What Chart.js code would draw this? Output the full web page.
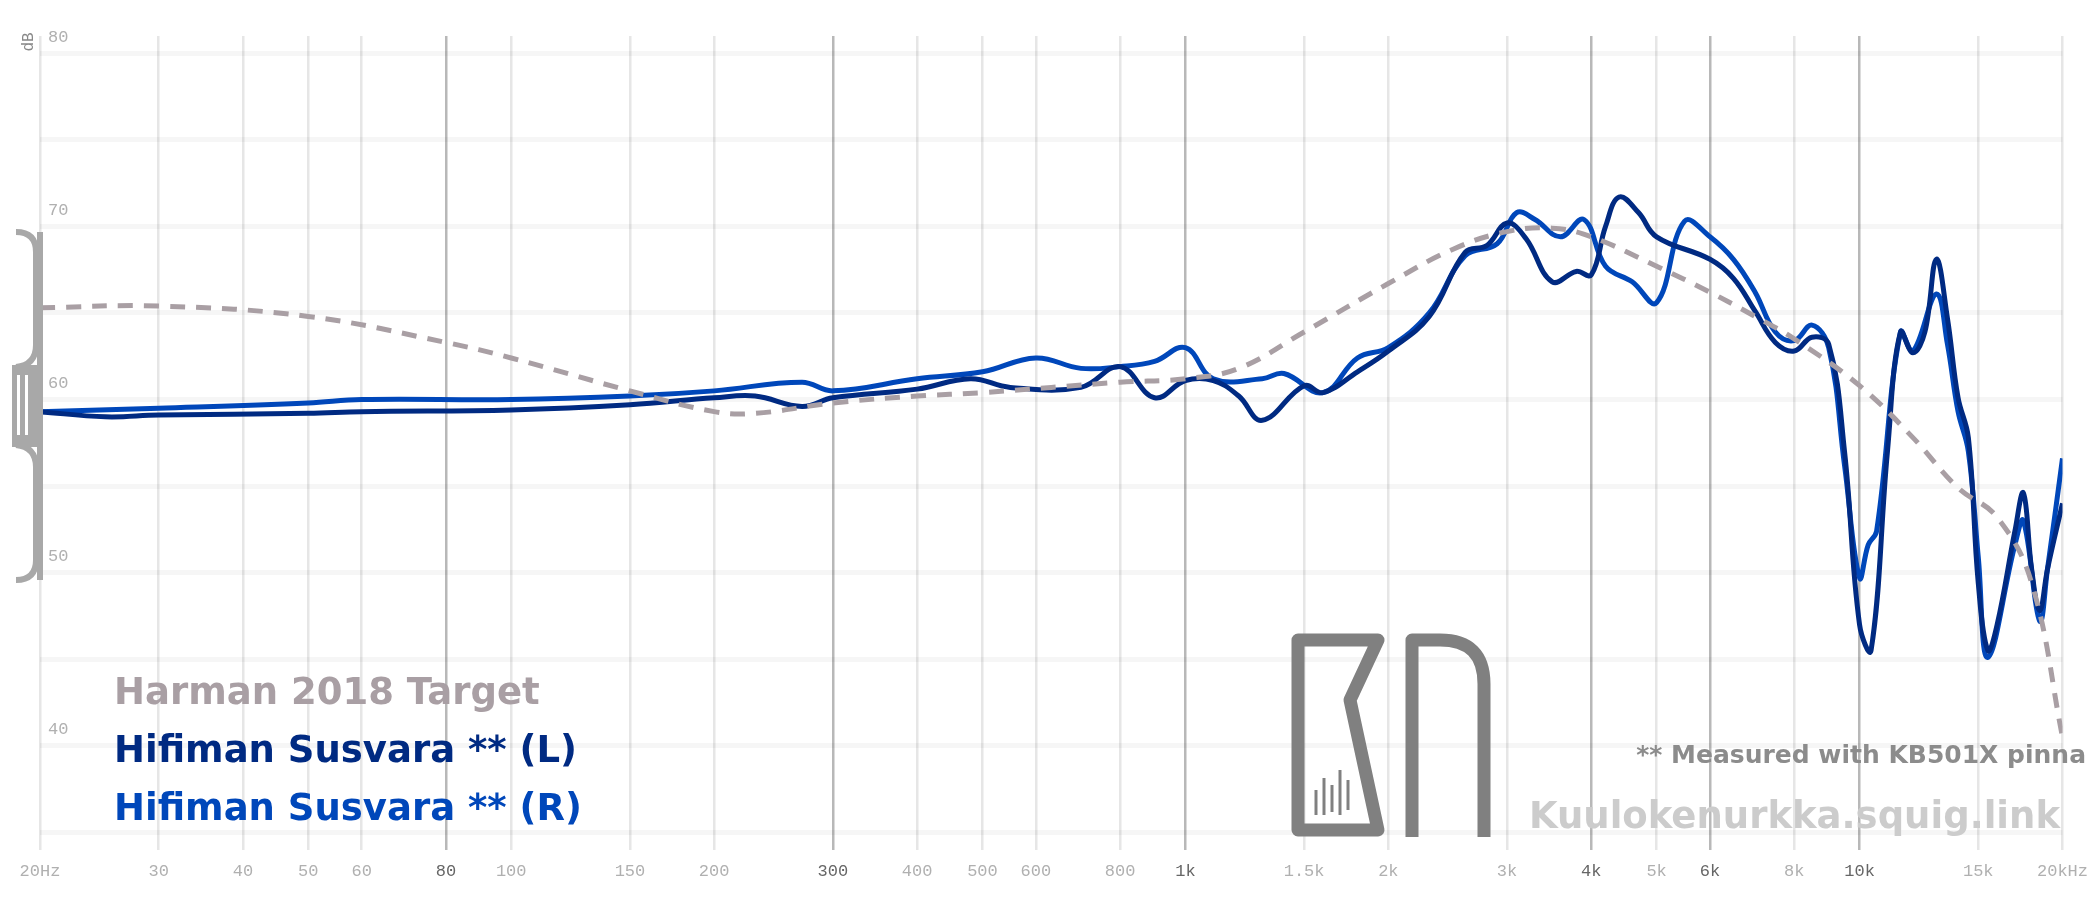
<!DOCTYPE html>
<html>
<head>
<meta charset="utf-8">
<script src="https://cdn.jsdelivr.net/npm/chart.js@4"></script>
<style>
  body { margin: 0; background: #fff; }
  #wrap { width: 2100px; height: 908px; }
</style>
</head>
<body>
<div id="wrap"><canvas id="fr"></canvas></div>
<script>
// frequency response values
const targetFreq = [20, 30, 50, 80, 100, 150, 200, 230, 300, 400, 500, 800, 1000, 1200, 1500, 2000, 2500, 3000, 3500, 4000, 5000, 6000, 7000, 8000, 10000, 12000, 14000, 16000, 18000, 20000];
const targetDb = [65.3, 65.4, 64.8, 63.3, 62.4, 60.5, 59.3, 59.2, 59.8, 60.2, 60.4, 61, 61.2, 61.8, 63.9, 66.7, 68.7, 69.7, 69.9, 69.4, 67.7, 66.2, 64.8, 63.5, 60.8, 57.8, 54.9, 53.2, 49.4, 40.5];

const leftFreq = [20, 25, 30, 50, 60, 100, 150, 200, 230, 270, 300, 400, 480, 550, 700, 800, 900, 1000, 1100, 1200, 1300, 1500, 1600, 1800, 2000, 2300, 2600, 2800, 3000, 3200, 3500, 3800, 4000, 4200, 4400, 4700, 5000, 6000, 6500, 7000, 7500, 8000, 8500, 9000, 9500, 10000, 10400, 11000, 11500, 12000, 12500, 13000, 13500, 14000, 14500, 15000, 15500, 16000, 17000, 17500, 18000, 18500, 19000, 20000];
const leftDb = [59.3, 59, 59.1, 59.2, 59.3, 59.4, 59.7, 60.1, 60.2, 59.6, 60.1, 60.6, 61.2, 60.7, 60.7, 61.9, 60.1, 61.1, 61.1, 60.2, 58.8, 60.8, 60.4, 61.6, 62.8, 64.8, 68.5, 68.9, 70.2, 69.3, 66.8, 67.4, 67.2, 70, 71.7, 70.8, 69.4, 68.1, 67, 65.1, 63.3, 62.8, 63.6, 63.2, 57, 47, 45.5, 57, 63.9, 62.7, 63.9, 68.1, 64.7, 60.1, 57.8, 49.4, 45.5, 47, 52.4, 54.6, 50.2, 47.8, 50.2, 54];

const rightFreq = [20, 30, 50, 60, 100, 150, 200, 270, 300, 400, 500, 600, 700, 800, 900, 1000, 1100, 1300, 1400, 1600, 1800, 2000, 2300, 2600, 2900, 3100, 3300, 3600, 3900, 4200, 4600, 5000, 5500, 6000, 6500, 7000, 7500, 8000, 8500, 9000, 9500, 10000, 10300, 10600, 11500, 12000, 13000, 13500, 14000, 14500, 15000, 15500, 17000, 17500, 18500, 19000, 20000];
const rightDb = [59.3, 59.5, 59.8, 60.0, 60, 60.2, 60.5, 61, 60.5, 61.2, 61.6, 62.4, 61.8, 61.9, 62.2, 63, 61.2, 61.2, 61.5, 60.4, 62.4, 63, 65, 68.3, 69, 70.8, 70.4, 69.4, 70.4, 67.7, 66.8, 65.6, 70.3, 69.4, 68.1, 66.2, 63.9, 63.4, 64.3, 63, 56.2, 49.7, 51.6, 52.4, 63.9, 62.8, 66.1, 63.2, 59.3, 57, 50.9, 45.1, 51.6, 53, 47.2, 50.2, 56.6];

const freqTicks = [20, 30, 40, 50, 60, 80, 100, 150, 200, 300, 400, 500, 600, 800, 1000, 1500, 2000, 3000, 4000, 5000, 6000, 8000, 10000, 15000, 20000];
const majorTicks = [80, 300, 1000, 4000, 6000, 10000];

const legendNames = ['Harman 2018 Target', 'Hifiman Susvara ** (L)', 'Hifiman Susvara ** (R)'];
const colors = ['#a99fa4', '#002a82', '#0047ba'];

function pts(f, d) { return f.map((v, i) => ({ x: v, y: d[i] })); }

function fmtFreq(v) {
  if (v === 20) return '20Hz';
  if (v === 20000) return '20kHz';
  if (v >= 1000) return (v / 1000) + 'k';
  return String(v);
}

const decor = {
  id: 'decor',
  afterDraw(chart) {
    const c = chart.ctx;
    c.save();
    // legend
    c.font = 'bold 37px "DejaVu Sans"';
    c.textBaseline = 'alphabetic';
    legendNames.forEach((n, i) => {
      c.fillStyle = colors[i];
      c.fillText(n, 114, 704 + i * 58);
    });
    // notes
    c.textAlign = 'right';
    c.font = 'bold 25px "DejaVu Sans"';
    c.fillStyle = '#8c8c8c';
    c.fillText('** Measured with KB501X pinna', 2086, 763);
    c.font = 'bold 37px "DejaVu Sans"';
    c.fillStyle = '#cccccc';
    c.fillText('Kuulokenurkka.squig.link', 2060, 828);
    // dB label
    c.textAlign = 'center';
    c.font = '16px "Liberation Mono"';
    c.fillStyle = '#888';
    c.translate(28, 42);
    c.rotate(-Math.PI / 2);
    c.fillText('dB', 0, 5);
    c.restore();

    // KN logo
    c.save();
    c.strokeStyle = '#808080';
    c.lineWidth = 13;
    c.lineJoin = 'round';
    c.beginPath();
    c.moveTo(1298, 640); c.lineTo(1378, 640); c.lineTo(1350, 700);
    c.lineTo(1378, 830); c.lineTo(1298, 830); c.closePath();
    c.stroke();
    c.beginPath();
    c.moveTo(1412, 837); c.lineTo(1412, 640); c.lineTo(1440, 640);
    c.quadraticCurveTo(1484, 640, 1484, 684); c.lineTo(1484, 837);
    c.stroke();
    c.lineWidth = 3;
    [[1316, 790, 815], [1324, 778, 815], [1332, 785, 812], [1340, 770, 815], [1348, 780, 810]].forEach(b => {
      c.beginPath(); c.moveTo(b[0], b[1]); c.lineTo(b[0], b[2]); c.stroke();
    });
    // left bracket
    c.strokeStyle = '#a8a8a8';
    c.lineWidth = 6;
    c.beginPath();
    c.moveTo(16, 232); c.quadraticCurveTo(36, 232, 36, 252); c.lineTo(36, 345);
    c.quadraticCurveTo(36, 365, 16, 367);
    c.moveTo(16, 445); c.quadraticCurveTo(36, 447, 36, 467); c.lineTo(36, 560);
    c.quadraticCurveTo(36, 580, 16, 580);
    c.moveTo(40, 232); c.lineTo(40, 580);
    c.stroke();
    c.fillStyle = '#a8a8a8';
    c.fillRect(12, 365, 28, 82);
    c.fillStyle = '#fff';
    c.fillRect(17, 375, 3, 60);
    c.fillRect(25, 375, 3, 60);
    c.restore();
  }
};

new Chart(document.getElementById('fr'), {
  type: 'line',
  data: {
    datasets: [
      { label: legendNames[0], data: pts(targetFreq, targetDb), borderColor: colors[0], borderWidth: 5, borderDash: [15, 11], tension: 0.4 },
      { label: legendNames[1], data: pts(leftFreq, leftDb), borderColor: colors[1], borderWidth: 5, tension: 0.4 },
      { label: legendNames[2], data: pts(rightFreq, rightDb), borderColor: colors[2], borderWidth: 5, tension: 0.4 }
    ]
  },
  options: {
    responsive: true,
    maintainAspectRatio: false,
    animation: false,
    elements: { point: { radius: 0 } },
    layout: { padding: { left: 40, right: 31, top: 36, bottom: 14 } },
    plugins: { legend: { display: false }, tooltip: { enabled: false } },
    scales: {
      x: {
        type: 'logarithmic',
        min: 20, max: 20000,
        afterBuildTicks: s => { s.ticks = freqTicks.map(v => ({ value: v })); },
        border: { display: false },
        grid: {
          color: ctx => majorTicks.includes(ctx.tick && ctx.tick.value) ? '#b8b8b8' : '#e6e6e6',
          lineWidth: 2.5,
          drawTicks: false
        },
        ticks: {
          autoSkip: false, maxRotation: 0, padding: 12,
          font: { family: 'Liberation Mono', size: 17 },
          color: ctx => majorTicks.includes(ctx.tick.value) ? '#666' : '#b0b0b0',
          callback: v => fmtFreq(v)
        }
      },
      y: {
        min: 34, max: 81,
        afterFit: s => { s.width = 0; },
        border: { display: false },
        afterBuildTicks: s => { s.ticks = [35, 40, 45, 50, 55, 60, 65, 70, 75, 80].map(v => ({ value: v })); },
        grid: { color: 'rgba(0,0,0,0.035)', lineWidth: 5, drawTicks: false },
        ticks: {
          mirror: true, padding: 8, labelOffset: -16,
          font: { family: 'Liberation Mono', size: 17 },
          color: '#b0b0b0',
          callback: v => (v % 10 === 0 ? String(v) : '')
        }
      }
    }
  },
  plugins: [decor]
});
</script>
</body>
</html>
